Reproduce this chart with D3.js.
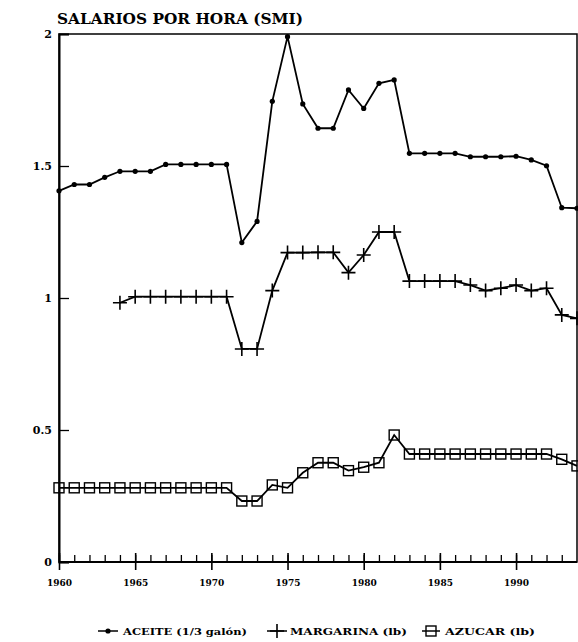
<!DOCTYPE html>
<html>
<head>
<meta charset="utf-8">
<script src="https://cdn.jsdelivr.net/npm/d3@7/dist/d3.min.js"></script>
<style>
html,body{margin:0;padding:0;background:#fff;}
text{font-family:"DejaVu Serif","Liberation Serif",serif;font-weight:bold;fill:#000;}
</style>
</head>
<body>
<svg id="chart" width="578" height="642"></svg>
<script>
const years = d3.range(1960, 1995);
const aceite = [1.406,1.43,1.43,1.457,1.48,1.48,1.48,1.506,1.506,1.506,1.506,1.506,1.21,1.29,1.745,1.99,1.735,1.643,1.643,1.788,1.718,1.813,1.826,1.548,1.548,1.548,1.548,1.535,1.535,1.535,1.537,1.523,1.501,1.342,1.34];
const margarinaYears = d3.range(1964, 1995);
const margarina = [0.982,1.005,1.005,1.005,1.005,1.005,1.005,1.005,0.807,0.807,1.028,1.172,1.172,1.173,1.173,1.096,1.163,1.25,1.25,1.064,1.064,1.064,1.064,1.049,1.028,1.037,1.049,1.028,1.037,0.936,0.923];
const azucar = [0.281,0.281,0.281,0.281,0.281,0.281,0.281,0.281,0.281,0.281,0.281,0.281,0.231,0.231,0.292,0.281,0.338,0.376,0.376,0.346,0.359,0.376,0.481,0.409,0.409,0.409,0.409,0.409,0.409,0.409,0.409,0.409,0.409,0.389,0.364];
const yTicks = [0, 0.5, 1, 1.5, 2];
const yTickLabels = ["0", "0.5", "1", "1.5", "2"];
const xMajor = [1960, 1965, 1970, 1975, 1980, 1985, 1990];
const title = "SALARIOS POR HORA (SMI)";
const legendLabels = ["ACEITE (1/3 galón)", "MARGARINA (lb)", "AZUCAR (lb)"];

const svg = d3.select("#chart");
const x = d3.scaleLinear().domain([1960, 1994]).range([59, 577]);
const y = d3.scaleLinear().domain([0, 2]).range([562, 34]);

// title
svg.append("text").attr("x", 57).attr("y", 24).attr("font-size", 14)
  .attr("textLength", 246).attr("lengthAdjust", "spacingAndGlyphs").text(title);

// frame
svg.append("rect").attr("x", x(1960)).attr("y", y(2)).attr("width", x(1994) - x(1960))
  .attr("height", y(0) - y(2)).attr("fill", "none").attr("stroke", "#000").attr("stroke-width", 1.5);

// y axis (ticks inward)
const yAxis = d3.axisRight(y).tickValues(yTicks).tickSize(10).tickFormat("");
const gy = svg.append("g").attr("transform", `translate(${x(1960)},0)`).call(yAxis);
gy.select(".domain").attr("stroke-width", 2);
gy.selectAll(".tick line").attr("stroke-width", 1.3);
yTicks.forEach((t, i) => {
  svg.append("text").attr("x", 52).attr("y", y(t) + 4).attr("text-anchor", "end")
    .attr("font-size", 11).text(yTickLabels[i]);
});

// x axis: minor ticks inward, major ticks crossing
const gx = svg.append("g").attr("transform", `translate(0,${y(0)})`);
gx.call(d3.axisTop(x).tickValues(d3.range(1960, 1994)).tickSize(7).tickFormat(""));
gx.select(".domain").remove();
gx.selectAll(".tick line").attr("stroke-width", 1.3);
const gx2 = svg.append("g").attr("transform", `translate(0,${y(0)})`);
gx2.call(d3.axisBottom(x).tickValues(xMajor).tickSize(8).tickFormat(d3.format("d")));
gx2.select(".domain").remove();
gx2.selectAll(".tick line").attr("stroke-width", 1.6).attr("y1", -9);
gx2.selectAll(".tick text").attr("font-size", 9).attr("y", 18)
  .attr("font-family", "DejaVu Serif").attr("font-weight", "bold").attr("fill", "#000");
svg.append("line").attr("x1", x(1960)).attr("x2", x(1994)).attr("y1", y(0)).attr("y2", y(0))
  .attr("stroke", "#000").attr("stroke-width", 2);

const line = d3.line().x(d => x(d[0])).y(d => y(d[1]));
const lineStyle = sel => sel.attr("fill", "none").attr("stroke", "#000").attr("stroke-width", 1.8);

const dA = years.map((yr, i) => [yr, aceite[i]]);
const dM = margarinaYears.map((yr, i) => [yr, margarina[i]]);
const dZ = years.map((yr, i) => [yr, azucar[i]]);

svg.append("path").datum(dA).attr("d", line).call(lineStyle);
svg.append("path").datum(dM).attr("d", line).call(lineStyle);
svg.append("path").datum(dZ).attr("d", line).call(lineStyle);

function dot(g, cx, cy) {
  g.append("circle").attr("cx", cx).attr("cy", cy).attr("r", 2.6).attr("fill", "#000");
}
function plus(g, cx, cy) {
  g.append("path").attr("d", `M${cx-7},${cy}H${cx+7}M${cx},${cy-7}V${cy+7}`)
    .attr("stroke", "#000").attr("stroke-width", 1.6).attr("fill", "none");
}
function square(g, cx, cy) {
  g.append("rect").attr("x", cx - 5).attr("y", cy - 5).attr("width", 10).attr("height", 10)
    .attr("fill", "none").attr("stroke", "#000").attr("stroke-width", 1.4);
}
const gm = svg.append("g");
dA.forEach(d => dot(gm, x(d[0]), y(d[1])));
dM.forEach(d => plus(gm, x(d[0]), y(d[1])));
dZ.forEach(d => square(gm, x(d[0]), y(d[1])));

// legend
const ly = 631;
const lg = svg.append("g");
const items = [
  {x1: 98, x2: 118, mark: dot, tx: 123, tw: 124},
  {x1: 267, x2: 287, mark: plus, tx: 290, tw: 117},
  {x1: 422, x2: 440, mark: square, tx: 445, tw: 90}
];
items.forEach((it, i) => {
  lg.append("line").attr("x1", it.x1).attr("x2", it.x2).attr("y1", ly).attr("y2", ly)
    .attr("stroke", "#000").attr("stroke-width", 1.5);
  it.mark(lg, (it.x1 + it.x2) / 2, ly);
  lg.append("text").attr("x", it.tx).attr("y", ly + 3.5).attr("font-size", 9)
    .attr("textLength", it.tw).attr("lengthAdjust", "spacingAndGlyphs").text(legendLabels[i]);
});
</script>
</body>
</html>
